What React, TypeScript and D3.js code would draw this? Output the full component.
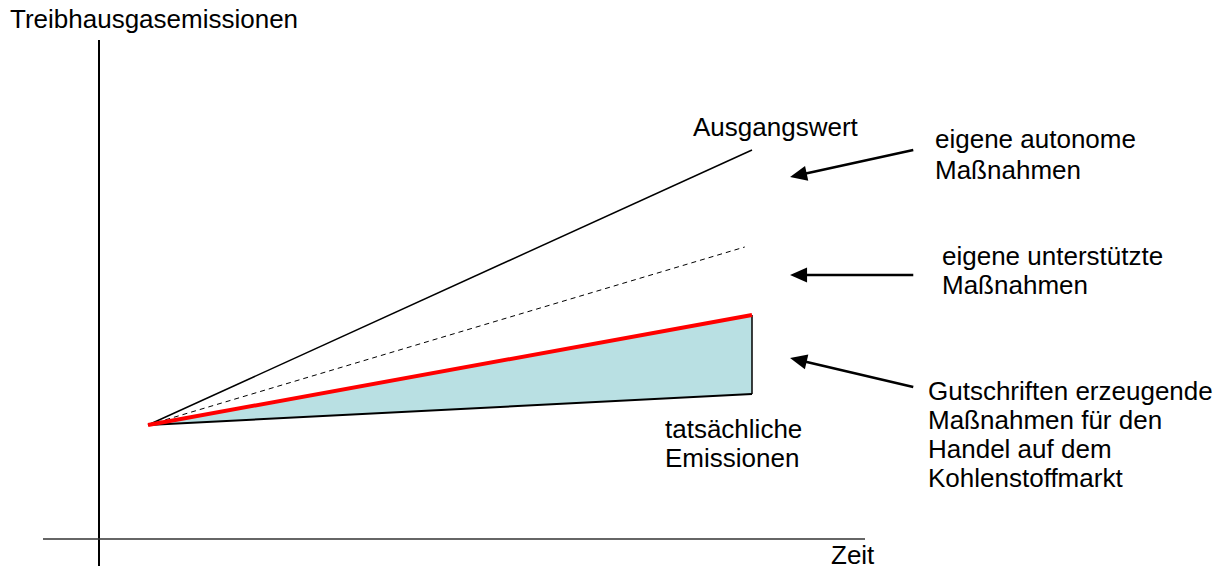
import React from 'react';
import * as d3 from 'd3';

// Schematic: emissions over time, all paths start at the same point (t = 0)
const baseline = [
  { t: 0, v: 22.8 },
  { t: 1, v: 77.8 },
];
const supported = [
  { t: 0, v: 22.8 },
  { t: 0.988, v: 58.4 },
];
const autonomous = [
  { t: 0, v: 22.8 },
  { t: 1, v: 44.8 },
];
const actual = [
  { t: 0, v: 22.8 },
  { t: 1, v: 29.0 },
];

// Arrows pointing at the gaps between lines (tail -> tip, in data units)
const arrows = [
  { from: { t: 1.267, v: 77.8 }, to: { t: 1.063, v: 72.4 } },
  { from: { t: 1.267, v: 52.8 }, to: { t: 1.063, v: 52.8 } },
  { from: { t: 1.267, v: 30.4 }, to: { t: 1.063, v: 36.2 } },
];

const labels = [
  { x: 693, y: 136, lines: ['Ausgangswert'] },
  { x: 935, y: 148, lines: ['eigene autonome', 'Maßnahmen'], gap: 31 },
  { x: 942, y: 265, lines: ['eigene unterstützte', 'Maßnahmen'] },
  {
    x: 928,
    y: 400,
    lines: ['Gutschriften erzeugende', 'Maßnahmen für den', 'Handel auf dem', 'Kohlenstoffmarkt'],
  },
  { x: 665, y: 438, lines: ['tatsächliche', 'Emissionen'] },
];

const width = 1227;
const height = 569;

const App = () => {
  const x = d3.scaleLinear().domain([0, 1]).range([148, 752]);
  const y = d3.scaleLinear().domain([0, 100]).range([539, 39]);

  const line = d3
    .line<{ t: number; v: number }>()
    .x((d) => x(d.t))
    .y((d) => y(d.v));

  // shaded band between the red line and the actual emissions
  const band = d3
    .area<number>()
    .x((i) => x(actual[i].t))
    .y0((i) => y(actual[i].v))
    .y1((i) => y(autonomous[i].v));

  const last = actual.length - 1;
  const font = '"Liberation Sans", Arial, sans-serif';

  // arrow geometry: shaft stops at the base of a filled head
  const headLen = 17;
  const headHalf = 7.5;
  const arrowGeom = arrows.map((a) => {
    const x1 = x(a.from.t);
    const y1 = y(a.from.v);
    const x2 = x(a.to.t);
    const y2 = y(a.to.v);
    const len = Math.hypot(x2 - x1, y2 - y1);
    const ux = (x2 - x1) / len;
    const uy = (y2 - y1) / len;
    const bx = x2 - ux * headLen;
    const by = y2 - uy * headLen;
    const head = `M${x2},${y2} L${bx - uy * headHalf},${by + ux * headHalf} L${bx + uy * headHalf},${by - ux * headHalf} Z`;
    return { x1, y1, bx: bx + ux * 2, by: by + uy * 2, head };
  });

  return (
    <svg
      width={width}
      height={height}
      style={{ position: 'absolute', left: 0, top: 0, background: '#fff' }}
      fontFamily={font}
      fontSize={26}
    >
      {/* axes */}
      <line x1={99} y1={40} x2={99} y2={566} stroke="#000" strokeWidth={2} />
      <line x1={43} y1={539} x2={865} y2={539} stroke="#333" strokeWidth={1.5} />
      <text x={10} y={28}>Treibhausgasemissionen</text>
      <text x={831} y={564}>Zeit</text>

      {/* band */}
      <path d={band(d3.range(actual.length)) ?? ''} fill="#b9e0e3" />
      <line
        x1={x(actual[last].t)}
        y1={y(actual[last].v)}
        x2={x(autonomous[last].t)}
        y2={y(autonomous[last].v)}
        stroke="#000"
        strokeWidth={1.5}
      />
      <path d={line(actual) ?? ''} fill="none" stroke="#000" strokeWidth={2} />

      <path d={line(baseline) ?? ''} fill="none" stroke="#000" strokeWidth={1.5} />
      <path
        d={line(supported) ?? ''}
        fill="none"
        stroke="#000"
        strokeWidth={1}
        strokeDasharray="5,4"
      />
      <path d={line(autonomous) ?? ''} fill="none" stroke="#ff0000" strokeWidth={4} />

      {/* arrows */}
      {arrowGeom.map((a, i) => (
        <g key={i}>
          <line x1={a.x1} y1={a.y1} x2={a.bx} y2={a.by} stroke="#000" strokeWidth={2.5} />
          <path d={a.head} fill="#000" />
        </g>
      ))}

      {/* labels */}
      {labels.map((l, i) => (
        <text key={i} x={l.x} y={l.y}>
          {l.lines.map((s, j) => (
            <tspan key={j} x={l.x} y={l.y + j * (l.gap ?? 29)}>
              {s}
            </tspan>
          ))}
        </text>
      ))}
    </svg>
  );
};

export default App;
